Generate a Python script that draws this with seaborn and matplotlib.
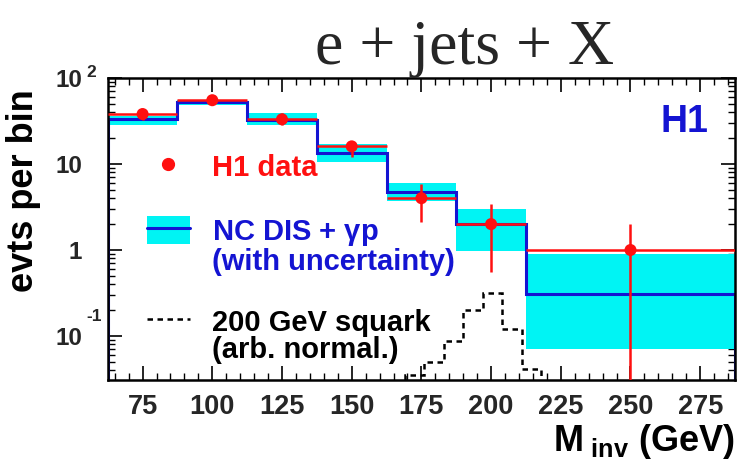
import matplotlib
matplotlib.use('Agg')
import matplotlib.pyplot as plt
import seaborn as sns
from matplotlib.lines import Line2D
from matplotlib.patches import Patch
from matplotlib.ticker import FixedLocator, LogLocator, MultipleLocator, NullFormatter

# bins in invariant mass (GeV)
edges = [62.5, 87.5, 112.5, 137.5, 162.5, 187.5, 212.5, 287.5]
m_inv = [75, 100, 125, 150, 175, 200, 250]
half_width = [12.5, 12.5, 12.5, 12.5, 12.5, 12.5, 37.5]

# H1 data with asymmetric errors
data = [38, 55, 33, 16, 4, 2, 1]
data_lo = [32, 48, 28, 12, 2.1, 0.55, 0.001]
data_hi = [44, 63, 39, 18.6, 5.9, 3.4, 2.0]

# NC DIS + gamma p expectation and its uncertainty band
mc = [33, 52, 32, 13.5, 4.7, 2.0, 0.31]
mc_lo = [28, 48, 28, 10.5, 3.7, 0.97, 0.07]
mc_hi = [36, 56, 39, 17, 6.0, 3.0, 0.9]

# 200 GeV squark signal (arbitrary normalisation)
sq_edges = [169, 176, 183, 190, 197, 204, 211, 218]
squark = [0.035, 0.050, 0.087, 0.20, 0.32, 0.12, 0.041]

# y axis labels, ROOT style: mantissa on the tick, exponent written apart
y_ticks = [0.1, 1, 10, 100]
y_tick_text = ['10', '1', '10', '10']
y_exponents = {0.1: '-1', 100: '2'}

sns.set_theme(style='ticks')
plt.rcParams['font.family'] = ['Liberation Sans', 'DejaVu Sans']
plt.rcParams['font.weight'] = 'bold'
plt.rcParams['mathtext.fontset'] = 'custom'
plt.rcParams['mathtext.rm'] = 'Liberation Sans:bold'
plt.rcParams['mathtext.it'] = 'Liberation Sans:bold'
plt.rcParams['mathtext.bf'] = 'Liberation Sans:bold'

RED = '#ff1010'
BLUE = '#1414d2'
CYAN = '#00f4f4'

fig = plt.figure(figsize=(7.38, 4.69), dpi=100)
ax = fig.add_axes([0.146, 0.19, 0.850, 0.644])

ax.stairs(mc_hi, edges, baseline=mc_lo, fill=True, color=CYAN, lw=0, zorder=1)
ax.stairs(mc, edges, baseline=1e-4, color=BLUE, lw=2.2, zorder=2)
ax.stairs(squark, sq_edges, baseline=1e-4, color='black', lw=1.8,
          linestyle=(0, (2.2, 1.8)), zorder=2)

yerr = [[d - l for d, l in zip(data, data_lo)], [h - d for d, h in zip(data, data_hi)]]
ax.errorbar(m_inv, data, xerr=half_width, yerr=yerr, fmt='none',
            ecolor=RED, elinewidth=1.8, capsize=0, zorder=3)
sns.scatterplot(x=m_inv, y=data, color=RED, s=75, edgecolor='none', ax=ax, zorder=4)

ax.set_yscale('log')
ax.set_xlim(62.5, 287.5)
ax.set_ylim(0.031, 100)

ax.yaxis.set_major_locator(FixedLocator(y_ticks))
ax.set_yticklabels(y_tick_text)
ax.yaxis.set_minor_locator(LogLocator(base=10, subs=range(2, 10)))
ax.yaxis.set_minor_formatter(NullFormatter())
ax.xaxis.set_major_locator(MultipleLocator(25))
ax.xaxis.set_minor_locator(MultipleLocator(5))

ax.tick_params(which='both', direction='in', top=True, right=True, color='black')
ax.tick_params(which='major', length=10, width=1.2)
ax.tick_params(axis='x', which='major', pad=10, labelsize=19.5)
ax.tick_params(axis='y', which='major', pad=18.5, labelsize=17.5)
ax.tick_params(which='minor', length=5, width=1.0)
for lab in ax.get_xticklabels() + ax.get_yticklabels():
    lab.set_fontweight('bold')
for sp in ax.spines.values():
    sp.set_color('black')
    sp.set_linewidth(1.8)

for val, rise in [(100, 3.6), (0.1, 14)]:
    ax.annotate(y_exponents[val], xy=(-0.034, val), xycoords=('axes fraction', 'data'),
                xytext=(0, rise), textcoords='offset points', ha='left', va='center',
                fontsize=12.5, fontweight='bold', annotation_clip=False)

ax.set_ylabel('evts per bin', fontsize=26, fontweight='bold', color='black')
ax.yaxis.set_label_coords(-0.106, 0.626)
ax.set_xlabel(r'M$_{\ \mathregular{inv}}$ (GeV)', fontsize=26, fontweight='bold',
              color='black', loc='right')
ax.xaxis.set_label_coords(1.0, -0.14)

ax.set_title('e + jets + X', fontsize=46, family='Liberation Serif',
             fontweight='normal', x=0.569, pad=9)

ax.text(0.919, 0.854, 'H1', transform=ax.transAxes, color=BLUE, fontsize=27,
        fontweight='bold', ha='center', va='center')

# legend entries
fs = 21
common = dict(frameon=False, fontsize=fs, loc='center left', borderpad=0,
              borderaxespad=0, handlelength=1.47, handletextpad=0.78,
              handleheight=1.08)
leg1 = ax.legend([Line2D([], [], color=RED, marker='o', ls='none', markersize=8.5)],
                 ['H1 data'], bbox_to_anchor=(0.062, 0.705), labelcolor=RED, **common)
ax.add_artist(leg1)
leg2 = ax.legend([(Patch(facecolor=CYAN, edgecolor='none'), Line2D([], [], color=BLUE, lw=2.2))],
                 [r'NC DIS + $\gamma$p'], bbox_to_anchor=(0.062, 0.49), labelcolor=BLUE, **common)
ax.add_artist(leg2)
leg3 = ax.legend([Line2D([], [], color='black', lw=1.8, ls=(0, (2.2, 1.8)))],
                 ['200 GeV squark'], bbox_to_anchor=(0.062, 0.192), labelcolor='black', **common)
ax.text(0.166, 0.391, '(with uncertainty)', transform=ax.transAxes, color=BLUE,
        fontsize=fs, fontweight='bold', va='center')
ax.text(0.166, 0.099, '(arb. normal.)', transform=ax.transAxes, color='black',
        fontsize=fs, fontweight='bold', va='center')

fig.savefig('out.png', dpi=100)
